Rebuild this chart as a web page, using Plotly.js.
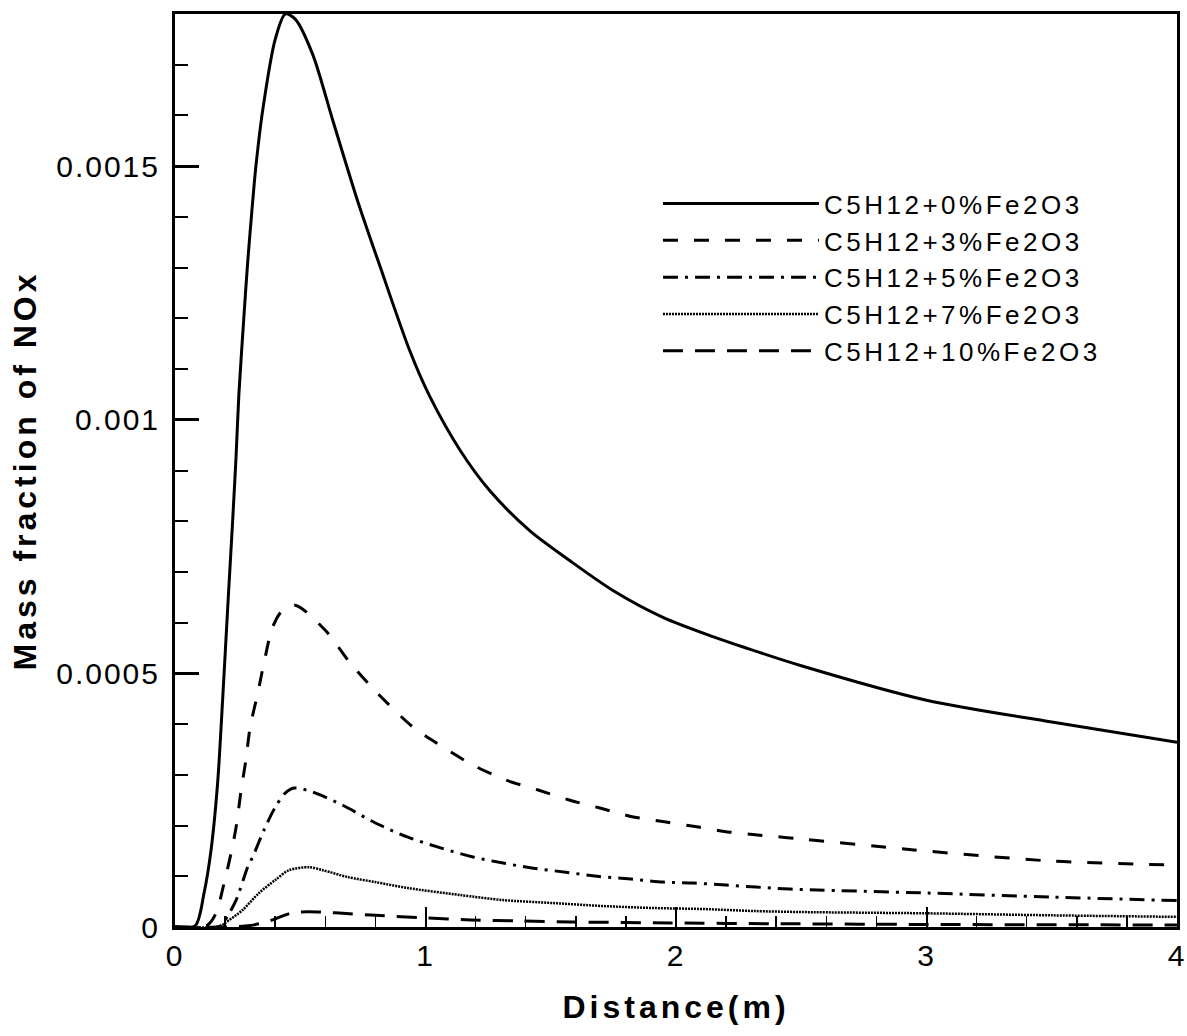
<!DOCTYPE html>
<html>
<head>
<meta charset="utf-8">
<script src="https://cdn.plot.ly/plotly-3.0.1.min.js"></script>
<style>
  html, body { margin: 0; padding: 0; background: #fff; }
  #chart { width: 1187px; height: 1036px; }
  text.legendtext { letter-spacing: 3.5px; }
  text.xtitle, text.ytitle { letter-spacing: 4px; }
  .xtick text, .ytick text { letter-spacing: 2px; }
</style>
</head>
<body>
<div id="chart"></div>
<script>
// ---- data ----
const seriesNames = [
  "C5H12+0%Fe2O3",
  "C5H12+3%Fe2O3",
  "C5H12+5%Fe2O3",
  "C5H12+7%Fe2O3",
  "C5H12+10%Fe2O3"
];

const x0 = [0, 0.08, 0.116, 0.144, 0.17, 0.19, 0.212, 0.23, 0.244, 0.255, 0.276, 0.29, 0.31, 0.323, 0.35, 0.40, 0.44, 0.48, 0.55, 0.63, 0.73, 0.818, 0.938, 1.018, 1.138, 1.257, 1.417, 1.577, 1.75, 1.95, 2.15, 2.28, 2.5, 3.0, 3.5, 4.0];
const y0 = [0, 0.000002, 0.000067, 0.000152, 0.000283, 0.000447, 0.000644, 0.0008, 0.00093, 0.00105, 0.00121, 0.00131, 0.00143, 0.0015, 0.00161, 0.00175, 0.0018, 0.00179, 0.00172, 0.00159, 0.00143, 0.001303, 0.001135, 0.001045, 0.00094, 0.00086, 0.000781, 0.000722, 0.000663, 0.00061, 0.000572, 0.00055, 0.000515, 0.000447, 0.000404, 0.000364];

const x3 = [0, 0.13, 0.164, 0.196, 0.224, 0.244, 0.264, 0.283, 0.30, 0.33, 0.355, 0.39, 0.43, 0.483, 0.60, 0.70, 0.81, 0.95, 1.04, 1.19, 1.325, 1.45, 1.577, 1.70, 1.83, 1.96, 2.09, 2.215, 2.335, 2.47, 2.95, 3.5, 4.0];
const y3 = [0, 0.000004, 0.0000276, 0.0000866, 0.000146, 0.000197, 0.00027, 0.000329, 0.000394, 0.00046, 0.00052, 0.000592, 0.000625, 0.000634, 0.000585, 0.00052, 0.00046, 0.000394, 0.000364, 0.000319, 0.000289, 0.00027, 0.00025, 0.000234, 0.000217, 0.000207, 0.000197, 0.000187, 0.000181, 0.000175, 0.000152, 0.00013, 0.000122];

const x5 = [0, 0.18, 0.2, 0.244, 0.29, 0.31, 0.355, 0.40, 0.44, 0.475, 0.55, 0.67, 0.80, 0.93, 1.06, 1.19, 1.31, 1.43, 1.56, 1.685, 1.82, 1.95, 2.07, 2.2, 2.32, 2.455, 3.0, 3.5, 4.0];
const y5 = [0, 0.000002, 0.0000138, 0.000053, 0.000118, 0.000138, 0.000191, 0.000236, 0.000264, 0.000274, 0.000266, 0.00024, 0.000205, 0.000177, 0.000156, 0.000138, 0.000126, 0.000116, 0.000108, 0.0001, 0.0000945, 0.0000886, 0.0000866, 0.0000827, 0.0000787, 0.0000748, 0.000067, 0.000059, 0.000052];

const x7 = [0, 0.18, 0.2, 0.27, 0.335, 0.40, 0.455, 0.535, 0.59, 0.69, 0.80, 0.93, 1.14, 1.31, 1.51, 1.71, 1.91, 2.11, 2.31, 2.5, 3.0, 3.5, 4.0];
const y7 = [0, 0.000001, 0.000008, 0.0000335, 0.000067, 0.0000925, 0.000112, 0.000118, 0.000112, 0.0000984, 0.0000886, 0.0000768, 0.000063, 0.0000531, 0.0000472, 0.0000413, 0.0000374, 0.0000354, 0.0000315, 0.0000295, 0.000027, 0.000023, 0.00002];

const x10 = [0, 0.2, 0.3, 0.35, 0.39, 0.43, 0.47, 0.53, 0.6, 0.67, 0.8, 1.0, 1.18, 1.37, 1.58, 1.98, 2.38, 3.0, 4.0];
const y10 = [0, 0, 0.000003, 0.000008, 0.000014, 0.000022, 0.000028, 0.00003, 0.000029, 0.000027, 0.000023, 0.000018, 0.000014, 0.000012, 0.00001, 0.000008, 0.0000065, 0.000005, 0.000004];

const xTickVals = [0, 1, 2, 3, 4];
const yTickVals = [0, 0.0005, 0.001, 0.0015];
const yTickText = ["0", "0.0005", "0.001", "0.0015"];

const xTitle = "Distance(m)";
const yTitle = "Mass fraction of NOx";

// ---- styles ----
const FONT = "Liberation Sans, Arial, sans-serif";
const dashes = ["solid", "15px,16px", "15px,7px,3px,7px", "2px,1px", "20px,12px"];
const widths = [3, 3, 3, 2.5, 3];
const xs = [x0, x3, x5, x7, x10];
const ys = [y0, y3, y5, y7, y10];

const traces = seriesNames.map((name, i) => ({
  type: "scatter",
  mode: "lines",
  name: name,
  x: xs[i],
  y: ys[i],
  line: { color: "#000", width: widths[i], dash: dashes[i], shape: "spline", smoothing: 0.8 },
  cliponaxis: true
}));

const layout = {
  width: 1187,
  height: 1036,
  paper_bgcolor: "#fff",
  plot_bgcolor: "#fff",
  margin: { l: 175, r: 10, t: 14, b: 109, pad: 0 },
  font: { family: FONT, color: "#000", size: 25 },
  showlegend: true,
  legend: {
    x: 0.482, y: 0.818, xanchor: "left", yanchor: "top",
    bgcolor: "rgba(0,0,0,0)",
    borderwidth: 0,
    itemwidth: 156,
    font: { family: FONT, size: 26, color: "#000" },
    tracegroupgap: 0
  },
  xaxis: {
    range: [0, 4],
    tickmode: "array",
    tickvals: xTickVals,
    ticktext: xTickVals.map(String),
    ticks: "inside",
    ticklen: 20,
    tickwidth: 2,
    tickcolor: "#000",
    ticklabelstandoff: 0,
    minor: { dtick: 0.2, tick0: 0, ticks: "inside", ticklen: 11, tickwidth: 1.5, tickcolor: "#000", showgrid: false },
    showline: true, linecolor: "#000", linewidth: 3, mirror: true,
    showgrid: false, zeroline: false,
    tickfont: { family: FONT, size: 30, color: "#000" },
    title: { text: xTitle, font: { family: FONT, size: 32, color: "#000", weight: "bold" }, standoff: 25 },
    automargin: false
  },
  yaxis: {
    range: [0, 0.0018],
    tickmode: "array",
    tickvals: yTickVals,
    ticktext: yTickText,
    ticks: "inside",
    ticklen: 24,
    tickwidth: 3,
    tickcolor: "#000",
    ticklabelstandoff: 6,
    minor: { dtick: 0.0001, tick0: 0, ticks: "inside", ticklen: 13, tickwidth: 2, tickcolor: "#000", showgrid: false },
    showline: true, linecolor: "#000", linewidth: 3, mirror: true,
    showgrid: false, zeroline: false,
    tickfont: { family: FONT, size: 30, color: "#000" },
    title: { text: yTitle, font: { family: FONT, size: 32, color: "#000", weight: "bold" }, standoff: 11 },
    automargin: false
  }
};

Plotly.newPlot("chart", traces, layout, { displayModeBar: false, staticPlot: true });
</script>
</body>
</html>
